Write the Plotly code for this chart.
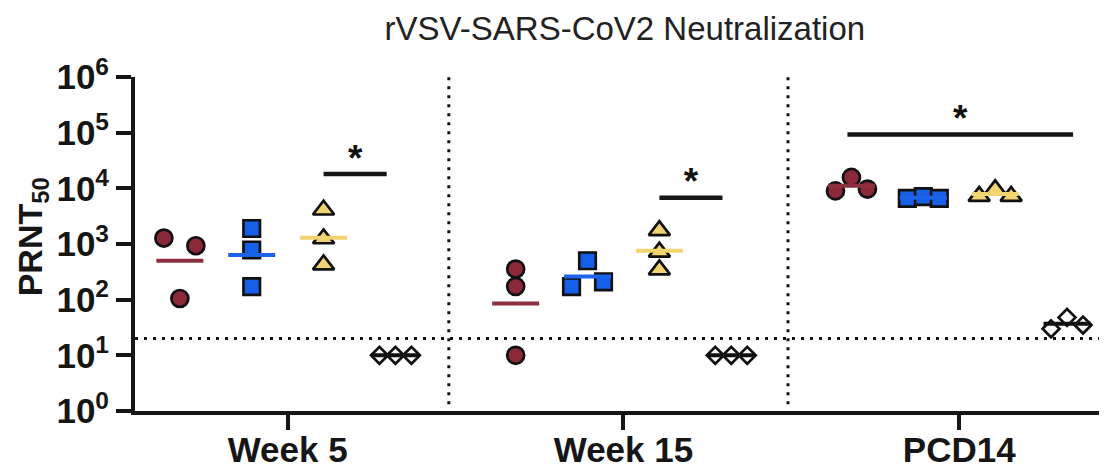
import numpy as np
import plotly.graph_objects as go

# ---------------- data ----------------
categories = ["Week 5", "Week 15", "PCD14"]
group_names = ["Group A", "Group B", "Group C", "Control"]

# PRNT50 values per category (3 animals each)
circle_vals = [[1280, 930, 105], [355, 173, 10], [9000, 15700, 9700]]
square_vals = [[1900, 780, 171], [500, 171, 209], [6600, 7100, 6600]]
triangle_vals = [[4100, 1250, 425], [1750, 720, 345], [7200, 9500, 7200]]
diamond_vals = [[10, 10, 10], [10, 10, 10], [30, 48, 35]]

limit_of_detection = 20

# significance bars: category index, from group, to group, bar height, label
sig_category = [0, 1, 2]
sig_from = [2, 2, 0]
sig_to = [3, 3, 3]
sig_height = [18000, 6800, 93000]
sig_label = ["*", "*", "*"]

ytick_exponents = [0, 1, 2, 3, 4, 5, 6]

# ---------------- styles ----------------
series = [circle_vals, square_vals, triangle_vals, diamond_vals]
symbols = ["circle", "square", "triangle-up", "diamond"]
fills = ["#8B2839", "#1660E8", "#F1D36F", "#FFFFFF"]
line_cols = ["#8E2F40", "#1A63EA", "#F2D56E", "#111111"]
msizes = [17, 16.5, 18.5, 13]
OUT = "#111111"
FONT = "Liberation Sans, Arial, sans-serif"

# the page body has an 8px margin, so the figure is drawn 8px smaller
W, H = 1099, 463
ML, MR, MT, MB = 127, 0, 69, 60
PLOT_W = W - ML - MR

GROUP_W = 0.214
SLOT = 0.0476
HALF_MEAN = 0.07
XR = [2.44 - PLOT_W / 335.8, 2.44]


def spread_offsets(vals, thresh=0.28):
    logs = np.log10(np.asarray(vals, dtype=float))
    order = np.argsort(logs, kind="stable")
    clusters, cur = [], [order[0]]
    for a, b in zip(order[:-1], order[1:]):
        if logs[b] - logs[a] < thresh:
            cur.append(b)
        else:
            clusters.append(cur)
            cur = [b]
    clusters.append(cur)
    slots = {1: [0], 2: [-1, 1], 3: [-1, 0, 1]}
    off = np.zeros(len(vals))
    for cl in clusters:
        for idx, s in zip(sorted(cl), slots[len(cl)]):
            off[idx] = s
    return off


def group_x(ci, gi):
    return ci + (gi - 1.5) * GROUP_W


fig = go.Figure()

# points
for gi, vals_by_cat in enumerate(series):
    xs, ys = [], []
    for ci, vals in enumerate(vals_by_cat):
        off = spread_offsets(vals)
        for v, o in zip(vals, off):
            xs.append(group_x(ci, gi) + o * SLOT)
            ys.append(v)
    fig.add_trace(go.Scatter(
        x=xs, y=ys, mode="markers", name=group_names[gi], showlegend=False,
        cliponaxis=False,
        marker=dict(symbol=symbols[gi], size=msizes[gi], color=fills[gi],
                    line=dict(color=OUT, width=2.7))))

# geometric mean lines
for gi, vals_by_cat in enumerate(series):
    for ci, vals in enumerate(vals_by_cat):
        gm = float(np.exp(np.mean(np.log(vals))))
        cx = group_x(ci, gi)
        fig.add_trace(go.Scatter(
            x=[cx - HALF_MEAN, cx + HALF_MEAN], y=[gm, gm], mode="lines",
            showlegend=False, hoverinfo="skip",
            line=dict(color=line_cols[gi], width=4)))

# limit of detection
fig.add_trace(go.Scatter(
    x=XR, y=[limit_of_detection] * 2, mode="lines", showlegend=False,
    hoverinfo="skip", line=dict(color="#111111", width=3, dash="3px,6px")))

# category separators
for sep in [0.48, 1.49]:
    fig.add_trace(go.Scatter(
        x=[sep, sep], y=[1.32, 1e6], mode="lines", showlegend=False,
        hoverinfo="skip", line=dict(color="#111111", width=3, dash="3px,6px")))

# significance bars and stars
star_x, star_y = [], []
for ci, g0, g1, h in zip(sig_category, sig_from, sig_to, sig_height):
    x0 = group_x(ci, g0) - (0.012 if g0 == 0 else 0.0)
    x1 = group_x(ci, g1) + (0.018 if g0 == 0 else -0.026)
    fig.add_trace(go.Scatter(
        x=[x0, x1], y=[h, h], mode="lines", showlegend=False, hoverinfo="skip",
        line=dict(color="#161616", width=4.5)))
    star_x.append((x0 + x1) / 2)
    star_y.append(h * 10 ** 0.23)
fig.add_trace(go.Scatter(
    x=star_x, y=star_y, mode="text", text=sig_label, showlegend=False,
    hoverinfo="skip", textposition="middle center",
    textfont=dict(family=FONT, size=37, color="#111111", weight="bold")))

fig.update_layout(
    width=W, height=H,
    margin=dict(l=ML, r=MR, t=MT, b=MB, autoexpand=False),
    paper_bgcolor="white", plot_bgcolor="white",
    title=dict(text="rVSV-SARS-CoV2 Neutralization", x=0.504, xref="paper",
               xanchor="center", y=1 - 20 / H, yref="container",
               yanchor="middle", automargin=False,
               font=dict(family=FONT, size=33, color="#222222")),
    xaxis=dict(range=XR, tickvals=[0, 1, 2], ticktext=categories,
               automargin=False,
               showgrid=False, zeroline=False, showline=True, linewidth=4,
               linecolor="#161616", ticks="outside", ticklen=15, tickwidth=4,
               tickcolor="#161616", ticklabelstandoff=-10,
               tickfont=dict(family=FONT, size=35, color="#161616", weight="bold")),
    yaxis=dict(type="log", range=[0, 6], automargin=False,
               tickvals=[10 ** e for e in ytick_exponents],
               ticktext=[f"10<sup>{e}</sup>" for e in ytick_exponents],
               showgrid=False, zeroline=False, showline=True, linewidth=4,
               linecolor="#161616", ticks="outside", ticklen=15, tickwidth=4,
               tickcolor="#161616",
               tickfont=dict(family=FONT, size=35, color="#161616", weight="bold")),
)

fig.add_annotation(
    text="PRNT<sub>50</sub>", textangle=-90, xref="paper", yref="paper",
    x=(24 - ML) / PLOT_W, y=0.52, xanchor="center", yanchor="middle",
    showarrow=False,
    font=dict(family=FONT, size=34, color="#161616", weight="bold"))

fig.write_html("out.html")
